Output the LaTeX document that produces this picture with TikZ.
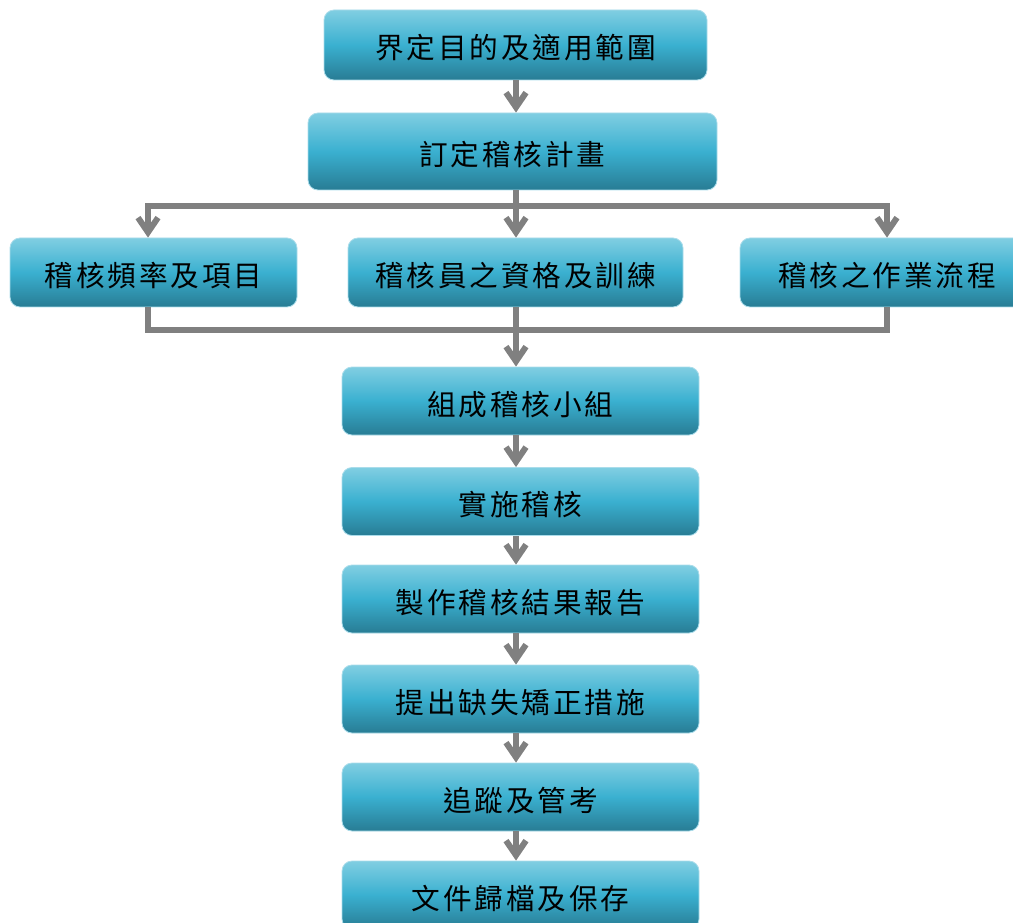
\documentclass[tikz,border=0pt]{standalone}
\usepackage{fontspec}
\newfontfamily\cjk[LetterSpace=10]{Noto Sans CJK TC}
\usetikzlibrary{arrows.meta}
\definecolor{boxtop}{RGB}{128,206,226}
\definecolor{boxmid}{RGB}{58,176,208}
\definecolor{boxbot}{RGB}{40,124,148}
\definecolor{boxedge}{RGB}{170,220,234}
\definecolor{linegray}{RGB}{128,128,128}
\begin{document}
\begin{tikzpicture}[x=0.75pt,y=-0.75pt,
  box/.style={rounded corners=7.5pt, top color=boxtop, bottom color=boxbot, middle color=boxmid,
    draw=boxedge, line width=0.6pt, font=\cjk\fontsize{21.5pt}{25pt}\selectfont, text=black, inner sep=0pt,
    text height=21pt, text depth=0pt},
  colbox/.style={box, minimum width=267.75pt, minimum height=51pt},
  rowbox/.style={box, minimum height=51.75pt},
  conn/.style={draw=linegray, line width=4.5pt},
  flow/.style={conn, -{Straight Barb[length=11pt,width=15pt]}}]
\useasboundingbox (0,0) rectangle (1013,923);
\node[box, minimum width=287.25pt, minimum height=52.5pt] (b1) at (515.5,45) {界定目的及適用範圍};
\node[box, minimum width=306.75pt, minimum height=57.75pt] (b2) at (512.5,151.5) {訂定稽核計畫};
\node[rowbox, minimum width=215.25pt] (b3) at (153.5,272.5) {稽核頻率及項目};
\node[rowbox, minimum width=251.25pt] (b4) at (515.5,272.5) {稽核員之資格及訓練};
\node[rowbox, minimum width=220.5pt] (b5) at (887,272.5) {稽核之作業流程};
\node[colbox] (b6) at (520.5,401) {組成稽核小組};
\node[colbox] (b7) at (520.5,501.5) {實施稽核};
\node[colbox] (b8) at (520.5,599) {製作稽核結果報告};
\node[colbox] (b9) at (520.5,699) {提出缺失矯正措施};
\node[colbox] (b10) at (520.5,797) {追蹤及管考};
\node[colbox] (b11) at (520.5,895) {文件歸檔及保存};
\coordinate (cx) at (516,0);
\coordinate (dl) at (148,206);
\coordinate (dr) at (887,206);
\coordinate (ml) at (148,330);
\coordinate (mr) at (887,330);
\draw[flow] (b1.south -| cx) -- (b2.north -| cx);
\draw[flow] (b2.south -| cx) -- (b4.north -| cx);
\draw[flow] (dr) -- (dl) -- (b3.north -| dl);
\draw[flow] (dl) -- (dr) -- (b5.north -| dr);
\draw[conn] (b3.south -| ml) -- (ml) -- (mr) -- (b5.south -| mr);
\draw[flow] (b4.south -| cx) -- (b6.north -| cx);
\draw[flow] (b6.south -| cx) -- (b7.north -| cx);
\draw[flow] (b7.south -| cx) -- (b8.north -| cx);
\draw[flow] (b8.south -| cx) -- (b9.north -| cx);
\draw[flow] (b9.south -| cx) -- (b10.north -| cx);
\draw[flow] (b10.south -| cx) -- (b11.north -| cx);
\end{tikzpicture}
\end{document}
